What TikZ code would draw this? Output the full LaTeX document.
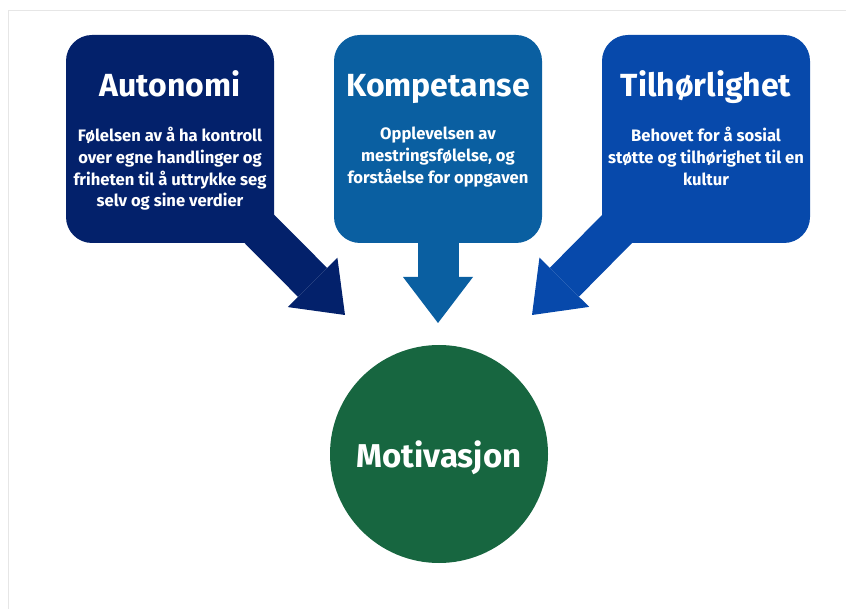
\documentclass[tikz,border=0pt]{standalone}
\usepackage{fontspec}
\setmainfont{Fira Sans}
\usetikzlibrary{arrows.meta,positioning}

\definecolor{autblue}{HTML}{03216B}
\definecolor{kompblue}{HTML}{0A5FA1}
\definecolor{tilblue}{HTML}{0749AB}
\definecolor{motgreen}{HTML}{176640}
\definecolor{framegray}{HTML}{E6E6E6}

\begin{document}
\begin{tikzpicture}[x=1pt,y=-1pt]
		\pgfdeclarelayer{bg}    % declare background layer
		\pgfsetlayers{bg,main}  % set the order of the layers
		
		\tikzstyle{box} = [rounded corners=26pt,minimum width=208pt,minimum height=208pt,inner sep=0pt]
		\tikzstyle{title} = [text=white,anchor=base,font=\bfseries\fontsize{32}{36}\selectfont]
		\tikzstyle{body} = [text=white,align=center,inner sep=0pt,font=\bfseries\fontsize{16.6}{21.8}\selectfont]
		\tikzstyle{bigarrow} = [line width=41pt,-{Triangle[width=70pt,length=46pt,line width=0pt]}]
		
		\useasboundingbox (0,0) rectangle (846,609);
		\draw [framegray, line width=1.5pt] (8.5,609) -- (8.5,10.5) -- (846,10.5);
		
		% Nodes
		\node [box, fill=autblue] (aut) at (170,139) {};
		\node [box, fill=kompblue] (komp) at (438,139) {};
		\node [box, fill=tilblue] (til) at (706,139) {};
		\node [circle, fill=motgreen, minimum size=218pt, text=white, text depth=0pt, font=\bfseries\fontsize{33}{38}\selectfont] (mot) at (439,454) {Motivasjon};
		
		% Titles and texts in the boxes
		\node [title] (autTitle) at (170,97) {Autonomi};
		\node [title] (kompTitle) at (438,97) {Kompetanse};
		\node [title] (tilTitle) at (706,97) {Tilhørlighet};
		\node [body, below=30pt of autTitle.base] (autText) {Følelsen av å ha kontroll\\over egne handlinger og\\friheten til å uttrykke seg\\selv og sine verdier};
		\node [body, below=30pt of kompTitle.base] (kompText) {Opplevelsen av\\mestringsfølelse, og\\forståelse for oppgaven};
		\node [body, below=30pt of tilTitle.base] (tilText) {Behovet for å sosial\\støtte og tilhørighet til en\\kultur};
		
		% Arrow tips
		\coordinate (autTip) at (345,315);
		\coordinate (kompTip) at (438,323);
		\coordinate (tilTip) at (532,315);
		
		\begin{pgfonlayer}{bg}    % select the background layer
		  \draw [bigarrow, autblue] (aut.center) -- (autTip);
		  \draw [bigarrow, kompblue] (komp.center) -- (kompTip);
		  \draw [bigarrow, tilblue] (til.center) -- (tilTip);
		\end{pgfonlayer}
	\end{tikzpicture}
\end{document}
